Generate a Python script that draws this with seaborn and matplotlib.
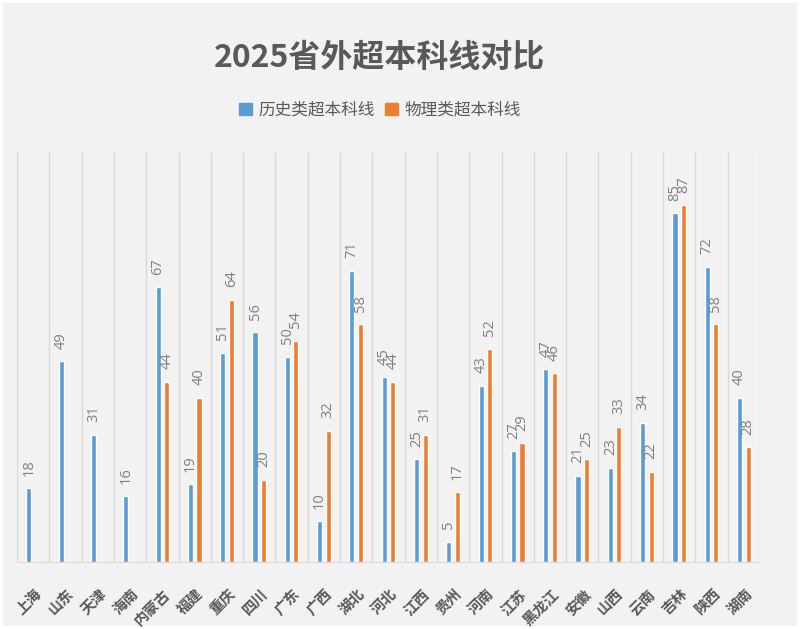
import numpy as np
import pandas as pd
import matplotlib
matplotlib.use("Agg")
import matplotlib.pyplot as plt
from matplotlib.patches import Patch
import seaborn as sns

# ── Données ──────────────────────────────────────────────────────────────
PROVINCES = ["上海", "山东", "天津", "海南", "内蒙古", "福建", "重庆", "四川",
             "广东", "广西", "湖北", "河北", "江西", "贵州", "河南", "江苏",
             "黑龙江", "安徽", "山西", "云南", "吉林", "陕西", "湖南"]
HISTORY = [18, 49, 31, 16, 67, 19, 51, 56, 50, 10, 71, 45,
           25, 5, 43, 27, 47, 21, 23, 34, 85, 72, 40]
PHYSICS = [np.nan, np.nan, np.nan, np.nan, 44, 40, 64, 20, 54, 32, 58, 44,
           31, 17, 52, 29, 46, 25, 33, 22, 87, 58, 28]
SERIES = ["历史类超本科线", "物理类超本科线"]
TITLE = "2025省外超本科线对比"

BLUE = "#5b9bd5"
ORANGE = "#ed7d31"
BG = "#f2f2f2"
TEXT = "#595959"
GRID = "#d9d9d9"

n = len(PROVINCES)
df = pd.DataFrame({
    "省份": PROVINCES * 2,
    "类别": [SERIES[0]] * n + [SERIES[1]] * n,
    "分数": HISTORY + PHYSICS,
})

# ── Style ────────────────────────────────────────────────────────────────
sns.set_style("white", rc={"axes.facecolor": BG, "figure.facecolor": BG})
plt.rcParams["font.family"] = ["Noto Sans CJK SC", "DejaVu Sans"]

fig = plt.figure(figsize=(8, 6.29), dpi=100)
fig.patch.set_edgecolor("white")
fig.patch.set_linewidth(3)
ax = fig.add_axes([0.02125, 0.1065, 0.92875, 0.652])

sns.barplot(data=df, x="省份", y="分数", hue="类别", order=PROVINCES,
            hue_order=SERIES, palette=[BLUE, ORANGE], width=0.53, gap=0.4,
            errorbar=None, saturation=1, legend=False, ax=ax)

# étiquettes de valeurs verticales
for cont in ax.containers:
    ax.bar_label(cont, fmt="%d", rotation=90, padding=9,
                 color="#808080", fontsize=10.5, family="Open Sans")

ax.set_xlim(-0.5, n - 0.5)
ax.set_ylim(0, 100)
ax.set_xlabel("")
ax.set_ylabel("")
ax.set_yticks([])
ax.set_xticks(range(n))
ax.set_xticklabels(PROVINCES, rotation=45, ha="right", rotation_mode="anchor",
                   fontsize=10.5, color=TEXT, fontweight="bold")
ax.tick_params(axis="x", length=0, pad=17)

# lignes verticales entre catégories
ax.set_xticks(np.arange(-0.5, n, 1), minor=True)
ax.tick_params(axis="x", which="minor", length=0)
ax.grid(which="minor", axis="x", color=GRID, linewidth=1)
ax.grid(which="major", visible=False)
ax.set_axisbelow(True)

for side in ["top", "left", "right"]:
    ax.spines[side].set_visible(False)
ax.spines["bottom"].set_color(GRID)

fig.text(0.475, 0.908, TITLE, ha="center", va="center", fontsize=23,
         fontweight="bold", color=TEXT)

handles = [Patch(color=BLUE), Patch(color=ORANGE)]
fig.legend(handles, SERIES, loc="center", bbox_to_anchor=(0.475, 0.825),
           ncol=2, frameon=False, handlelength=0.75, handleheight=0.75,
           handletextpad=0.4, columnspacing=0.6, fontsize=12,
           labelcolor=TEXT)

fig.savefig("out.png", dpi=100, facecolor=BG, edgecolor="white")
